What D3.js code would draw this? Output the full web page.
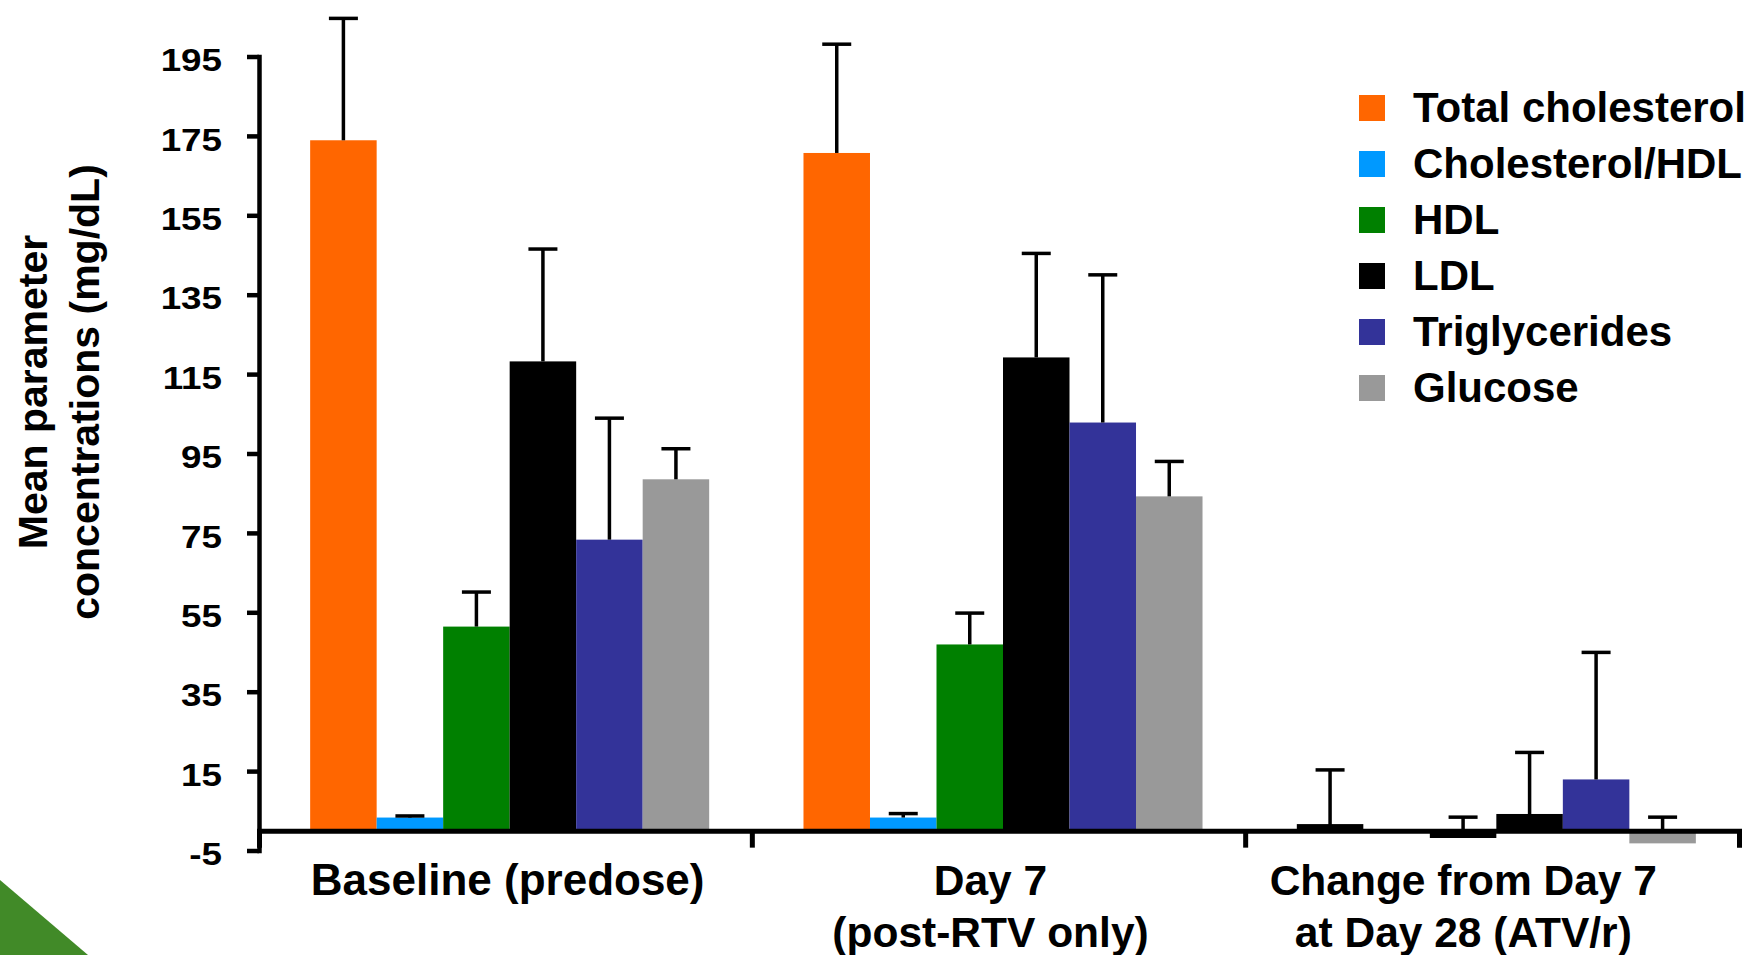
<!DOCTYPE html>
<html>
<head>
<meta charset="utf-8">
<script src="https://cdn.jsdelivr.net/npm/d3@7"></script>
<style>
  html, body { margin: 0; padding: 0; background: #ffffff; }
  svg { display: block; }
  text { font-family: "Liberation Sans", Arial, Helvetica, sans-serif; font-weight: bold; fill: #000; }
</style>
</head>
<body>
<div id="chart"></div>
<script>
// ---------------- data ----------------
const groups = ["Baseline", "Day 7", "Change"];
const groupLabels = [
  ["Baseline (predose)"],
  ["Day 7", "(post-RTV only)"],
  ["Change from Day 7", "at Day 28 (ATV/r)"]
];
const series = ["Total cholesterol", "Cholesterol/HDL", "HDL", "LDL", "Triglycerides", "Glucose"];

const totalChol      = [173.9, 170.7, 1.4];
const totalCholErr   = [30.7, 27.4, 13.9];
const cholHdlRatio   = [3.3, 3.3, 0];
const cholHdlErr     = [0.4, 1.0, 0];
const hdl            = [51.4, 46.9, -1.6];
const hdlErr         = [8.7, 7.9, 5.0];
const ldl            = [118.2, 119.2, 4.2];
const ldlErr         = [28.3, 26.2, 15.5];
const triglycerides  = [73.3, 102.8, 12.9];
const triglycErr     = [30.6, 37.2, 32.0];
const glucose        = [88.5, 84.2, -3.2];
const glucoseErr     = [7.7, 8.8, 6.6];

const yTicks = [-5, 15, 35, 55, 75, 95, 115, 135, 155, 175, 195];

const seriesValues = [totalChol, cholHdlRatio, hdl, ldl, triglycerides, glucose];
const seriesErrors = [totalCholErr, cholHdlErr, hdlErr, ldlErr, triglycErr, glucoseErr];

// ---------------- styles ----------------
const colors = ["#FF6600", "#0099FF", "#008000", "#000000", "#333399", "#999999"];
const W = 1756, H = 955;

const svg = d3.select("#chart").append("svg")
  .attr("width", W).attr("height", H);

svg.append("rect").attr("width", W).attr("height", H).attr("fill", "#fff");

// decorative corner
svg.append("path")
  .attr("d", "M0,880 L88,955 L0,955 Z")
  .attr("fill", "#418a28");

// ---------------- scales ----------------
const y = d3.scaleLinear().domain([-5, 195]).range([850.5, 56.5]);
const x0 = d3.scaleBand().domain(groups).range([259, 1739]).padding(0);
const x1 = d3.scaleBand().domain(series).range([4, x0.bandwidth() + 4])
  .paddingInner(0).paddingOuter(0.709);
const color = d3.scaleOrdinal().domain(series).range(colors);

// flatten
const rows = [];
groups.forEach((g, gi) => {
  series.forEach((s, si) => {
    rows.push({ g, s, v: seriesValues[si][gi], e: seriesErrors[si][gi] });
  });
});

// tiny bars (|v| < 2) render as solid black slivers, as in the source slide
const isTiny = d => Math.abs(d.v) > 0 && Math.abs(d.v) < 2;

// ---------------- bars ----------------
const bw = x1.bandwidth();
svg.append("g").selectAll("rect").data(rows).join("rect")
  .attr("x", d => x0(d.g) + x1(d.s) + (isTiny(d) ? 1 : 0))
  .attr("width", d => bw - (isTiny(d) ? 2 : 0))
  .attr("y", d => y(Math.max(d.v, 0)))
  .attr("height", d => Math.abs(y(d.v) - y(0)))
  .attr("fill", d => isTiny(d) ? "#000" : color(d.s))
  .attr("stroke", d => isTiny(d) ? "#000" : "none")
  .attr("stroke-width", 2);

// ---------------- error bars ----------------
const eg = svg.append("g").attr("stroke", "#000").attr("stroke-width", 3.5);
const errRows = rows.filter(d => d.e > 0);
eg.selectAll("line.stem").data(errRows).join("line")
  .attr("class", "stem")
  .attr("x1", d => x0(d.g) + x1(d.s) + bw / 2)
  .attr("x2", d => x0(d.g) + x1(d.s) + bw / 2)
  .attr("y1", d => y(Math.max(d.v, 0)))
  .attr("y2", d => y(d.v + d.e));
eg.selectAll("line.cap").data(errRows).join("line")
  .attr("class", "cap")
  .attr("x1", d => x0(d.g) + x1(d.s) + bw / 2 - 14.5)
  .attr("x2", d => x0(d.g) + x1(d.s) + bw / 2 + 14.5)
  .attr("y1", d => y(d.v + d.e))
  .attr("y2", d => y(d.v + d.e));

// ---------------- y axis ----------------
const yAxis = svg.append("g")
  .attr("transform", "translate(259,0)")
  .call(d3.axisLeft(y).tickValues(yTicks).tickFormat(d => String(d))
    .tickSizeInner(12).tickSizeOuter(0).tickPadding(25));
yAxis.select(".domain").attr("stroke", "#000").attr("stroke-width", 4.5).attr("stroke-linecap", "square");
yAxis.selectAll(".tick line").attr("stroke", "#000").attr("stroke-width", 4.5);
yAxis.selectAll(".tick text")
  .attr("font-size", 32)
  .attr("font-family", "'Liberation Sans', Arial, sans-serif")
  .attr("font-weight", "bold")
  .attr("fill", "#000")
  .attr("y", 4)
  .attr("transform", "translate(-37,0) scale(1.15,1) translate(37,0)");

// ---------------- x axis ----------------
const xAxis = svg.append("g")
  .attr("transform", `translate(0,${y(0)})`)
  .call(d3.axisBottom(x0).tickSizeInner(0).tickSizeOuter(17).tickFormat(""));
xAxis.select(".domain").attr("stroke", "#000").attr("stroke-width", 5);
xAxis.selectAll(".tick line").remove();

// separators between groups
svg.append("g").selectAll("line").data(groups.slice(0, -1)).join("line")
  .attr("x1", g => x0(g) + x0.bandwidth())
  .attr("x2", g => x0(g) + x0.bandwidth())
  .attr("y1", y(0))
  .attr("y2", y(0) + 17)
  .attr("stroke", "#000").attr("stroke-width", 5);

// category labels
const labelShift = [2, -8.5, -29];
const labelSize = [44, 42.5, 42.5];
groups.forEach((g, gi) => {
  const t = svg.append("text")
    .attr("x", x0(g) + x0.bandwidth() / 2 + labelShift[gi])
    .attr("y", 895)
    .attr("text-anchor", "middle")
    .attr("font-size", labelSize[gi]);
  groupLabels[gi].forEach((line, li) => {
    t.append("tspan")
      .attr("x", x0(g) + x0.bandwidth() / 2 + labelShift[gi])
      .attr("dy", li === 0 ? 0 : 52)
      .text(line);
  });
});

// ---------------- y title ----------------
const yTitle = ["Mean parameter", "concentrations (mg/dL)"];
const titleX = [47, 99];
yTitle.forEach((line, i) => {
  svg.append("text")
    .attr("transform", `translate(${titleX[i]},392) rotate(-90)`)
    .attr("text-anchor", "middle")
    .attr("font-size", 41)
    .text(line);
});

// ---------------- legend ----------------
const legend = svg.append("g");
series.forEach((s, i) => {
  const cy = 108 + i * 56;
  legend.append("rect")
    .attr("x", 1359).attr("y", cy - 13)
    .attr("width", 26).attr("height", 26)
    .attr("fill", color(s));
  legend.append("text")
    .attr("x", 1413).attr("y", cy + 14)
    .attr("font-size", 42)
    .text(s);
});
</script>
</body>
</html>
